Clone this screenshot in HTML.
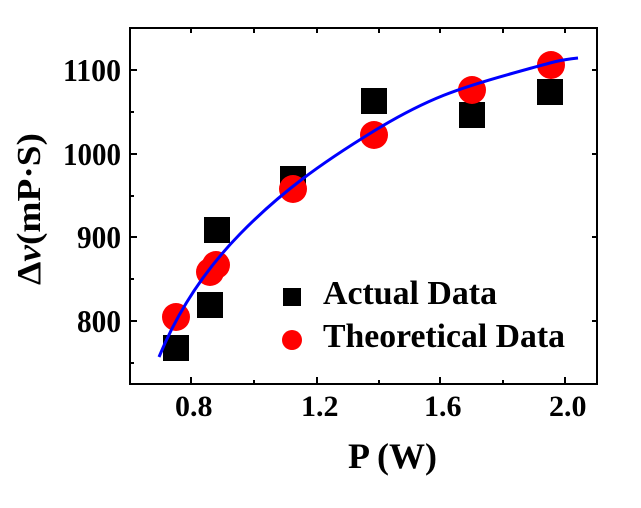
<!DOCTYPE html>
<html><head><meta charset="utf-8"><style>
body{margin:0;background:#fff;}
svg text{font-family:"Liberation Serif",serif;font-weight:bold;fill:#000;}
</style></head><body>
<svg width="641" height="503" viewBox="0 0 641 503" xmlns="http://www.w3.org/2000/svg">
<rect x="130" y="28" width="467" height="356" fill="none" stroke="#000" stroke-width="2"/>
<g stroke="#000" stroke-width="2">
<line x1="191" y1="384" x2="191" y2="377"/><line x1="317" y1="384" x2="317" y2="377"/><line x1="440" y1="384" x2="440" y2="377"/><line x1="565" y1="384" x2="565" y2="377"/>
<line x1="254" y1="384" x2="254" y2="380"/><line x1="379" y1="384" x2="379" y2="380"/><line x1="503" y1="384" x2="503" y2="380"/>
<line x1="191" y1="28" x2="191" y2="33"/><line x1="254" y1="28" x2="254" y2="33"/><line x1="317" y1="28" x2="317" y2="33"/><line x1="379" y1="28" x2="379" y2="33"/><line x1="440" y1="28" x2="440" y2="33"/><line x1="503" y1="28" x2="503" y2="33"/><line x1="565" y1="28" x2="565" y2="33"/>
<line x1="130" y1="70" x2="137" y2="70"/><line x1="130" y1="154" x2="137" y2="154"/><line x1="130" y1="237" x2="137" y2="237"/><line x1="130" y1="321" x2="137" y2="321"/>
<line x1="130" y1="112" x2="134" y2="112"/><line x1="130" y1="196" x2="134" y2="196"/><line x1="130" y1="279" x2="134" y2="279"/><line x1="130" y1="363" x2="134" y2="363"/>
<line x1="597" y1="70" x2="592" y2="70"/><line x1="597" y1="154" x2="592" y2="154"/><line x1="597" y1="237" x2="592" y2="237"/><line x1="597" y1="321" x2="592" y2="321"/>
</g>
<g font-size="32" text-anchor="end">
<text x="121" y="81" textLength="58" lengthAdjust="spacingAndGlyphs">1100</text><text x="121" y="165" textLength="58" lengthAdjust="spacingAndGlyphs">1000</text><text x="121" y="248" textLength="44" lengthAdjust="spacingAndGlyphs">900</text><text x="121" y="332" textLength="44" lengthAdjust="spacingAndGlyphs">800</text>
</g>
<g font-size="30">
<text x="175" y="416">0.8</text><text x="301" y="416">1.2</text><text x="424" y="416">1.6</text><text x="549" y="416">2.0</text>
</g>
<text x="348" y="468" font-size="36">P (W)</text>
<text font-size="34" transform="translate(40,285) rotate(-90)" textLength="152" lengthAdjust="spacingAndGlyphs">Δ<tspan font-style="italic">ν</tspan>(mP·S)</text>
<g fill="#000">
<rect x="163" y="335" width="26" height="26"/><rect x="197" y="292" width="26" height="26"/><rect x="204" y="217" width="26" height="26"/><rect x="280" y="166" width="26" height="26"/><rect x="361" y="88" width="26" height="26"/><rect x="459" y="102" width="26" height="26"/><rect x="537" y="79" width="26" height="26"/>
</g>
<g fill="#f00">
<circle cx="176" cy="317" r="14"/><circle cx="210" cy="272" r="14"/><circle cx="216" cy="265" r="14"/><circle cx="293" cy="189" r="14"/><circle cx="374" cy="135" r="14"/><circle cx="472" cy="90" r="14"/><circle cx="551" cy="65" r="14"/>
</g>
<path fill="none" stroke="#0000ff" stroke-width="3" d="M159,357 C175,318 200,275 240,234 S320,164 374,131 S460,88 510,74 S560,60 578,58"/>
<rect x="283" y="288" width="18" height="18" fill="#000"/>
<circle cx="292" cy="340" r="10" fill="#f00"/>
<text x="323" y="304" font-size="34" textLength="174" lengthAdjust="spacingAndGlyphs">Actual Data</text>
<text x="323" y="347" font-size="34" textLength="242" lengthAdjust="spacingAndGlyphs">Theoretical Data</text>
</svg>
</body></html>
